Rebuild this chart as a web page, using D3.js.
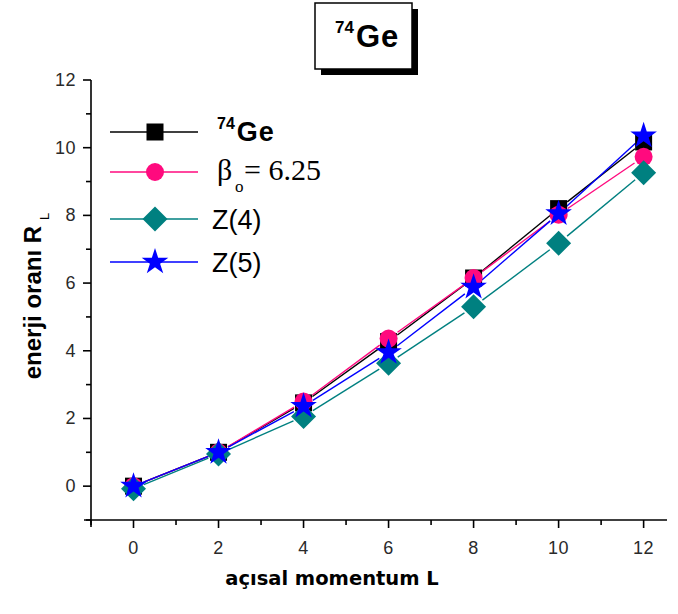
<!DOCTYPE html>
<html><head><meta charset="utf-8">
<script src="https://cdn.jsdelivr.net/npm/d3@7"></script>
<style>body{margin:0;background:#fff}svg{display:block}</style>
</head><body>
<svg id="c" width="678" height="614"></svg>
<script>
const angularL = [0, 2, 4, 6, 8, 10, 12];
const ge74 = [0, 1, 2.46, 4.27, 6.15, 8.2, 10.17];
const beta625 = [0, 1, 2.5, 4.36, 6.15, 8.02, 9.73];
const z4 = [-0.08, 0.95, 2.06, 3.63, 5.3, 7.18, 9.26];
const z5 = [0, 1, 2.36, 3.95, 5.88, 8.05, 10.35];
const xTicks = [0, 2, 4, 6, 8, 10, 12];
const yTicks = [0, 2, 4, 6, 8, 10, 12];

const series = [
  {name: "ge", vals: ge74, color: "#000000", shape: "square"},
  {name: "beta", vals: beta625, color: "#ff0a7e", shape: "circle"},
  {name: "z4", vals: z4, color: "#008080", shape: "diamond"},
  {name: "z5", vals: z5, color: "#0000ff", shape: "star"}
];

const svg = d3.select("#c");
const x = d3.scaleLinear().domain([-1, 12.55]).range([91, 667]);
const y = d3.scaleLinear().domain([-1, 12]).range([520, 80]);

// axes
const xAxis = svg.append("g").attr("transform", "translate(0,520)");
xAxis.append("line").attr("x1", 84).attr("x2", 667).attr("y1", 0).attr("y2", 0).attr("stroke", "#000").attr("stroke-width", 1.6);
d3.range(-1, 13, 1).forEach(v => {
  const major = v % 2 === 0;
  xAxis.append("line").attr("x1", x(v)).attr("x2", x(v)).attr("y1", 0).attr("y2", major ? 8 : 5)
    .attr("stroke", "#000").attr("stroke-width", 1.6);
});
xAxis.selectAll("text.t").data(xTicks).enter().append("text")
  .attr("x", d => x(d)).attr("y", 34).attr("text-anchor", "middle")
  .attr("font-family", "Liberation Sans, Arial, sans-serif").attr("font-size", 18).attr("letter-spacing", 0.5).attr("fill", "#2a2a2a")
  .text(d => d);

const yAxis = svg.append("g").attr("transform", "translate(91,0)");
yAxis.append("line").attr("x1", 0).attr("x2", 0).attr("y1", y(12)).attr("y2", 527).attr("stroke", "#000").attr("stroke-width", 1.6);
d3.range(-1, 13, 1).forEach(v => {
  const major = v % 2 === 0;
  yAxis.append("line").attr("x1", 0).attr("x2", major ? -8 : -5).attr("y1", y(v)).attr("y2", y(v))
    .attr("stroke", "#000").attr("stroke-width", 1.6);
});
yAxis.selectAll("text.t").data(yTicks).enter().append("text")
  .attr("x", -15).attr("y", d => y(d) + 6).attr("text-anchor", "end")
  .attr("font-family", "Liberation Sans, Arial, sans-serif").attr("font-size", 18).attr("letter-spacing", 0.5).attr("fill", "#2a2a2a")
  .text(d => d);

// axis titles
svg.append("text").attr("x", 332).attr("y", 585).attr("text-anchor", "middle")
  .attr("font-family", "DejaVu Sans, Verdana, sans-serif").attr("font-weight", "bold").attr("font-size", 19.5)
  .text("açısal momentum L");
const yl = svg.append("text").attr("transform", "translate(41,296) rotate(-90)").attr("text-anchor", "middle")
  .attr("font-family", "Liberation Sans, Arial, sans-serif").attr("font-weight", "bold").attr("font-size", 24);
yl.append("tspan").text("enerji oranı R");
yl.append("tspan").attr("font-size", 13).attr("dx", 6).attr("dy", 8).attr("font-weight", "normal").text("L");

// marker generator
function marker(g, shape, color, cx, cy) {
  if (shape === "square") g.append("rect").attr("x", cx - 8.5).attr("y", cy - 8.5).attr("width", 17).attr("height", 17).attr("fill", color);
  else if (shape === "circle") g.append("circle").attr("cx", cx).attr("cy", cy).attr("r", 9).attr("fill", color);
  else if (shape === "diamond") g.append("path").attr("d", `M${cx},${cy-12.5}L${cx+12.5},${cy}L${cx},${cy+12.5}L${cx-12.5},${cy}Z`).attr("fill", color);
  else if (shape === "star") g.append("path").attr("transform", `translate(${cx},${cy})`).attr("d", d3.symbol(d3.symbolStar, 220)()).attr("fill", color);
}

// series
const gap = 11;
series.forEach(s => {
  const g = svg.append("g");
  for (let i = 0; i < angularL.length - 1; i++) {
    const x1 = x(angularL[i]), y1 = y(s.vals[i]), x2 = x(angularL[i + 1]), y2 = y(s.vals[i + 1]);
    const len = Math.hypot(x2 - x1, y2 - y1), ux = (x2 - x1) / len, uy = (y2 - y1) / len;
    g.append("line").attr("x1", x1 + ux * gap).attr("y1", y1 + uy * gap).attr("x2", x2 - ux * gap).attr("y2", y2 - uy * gap)
      .attr("stroke", s.color).attr("stroke-width", 1.4);
  }
});
series.forEach(s => {
  const g = svg.append("g");
  angularL.forEach((L, i) => marker(g, s.shape, s.color, x(L), y(s.vals[i])));
});

// legend
const legY = [132, 172, 219, 262];
series.forEach((s, i) => {
  const g = svg.append("g");
  g.append("line").attr("x1", 110).attr("x2", 198).attr("y1", legY[i]).attr("y2", legY[i]).attr("stroke", s.color).attr("stroke-width", 1.4);
  marker(g, s.shape, s.color, 155, legY[i]);
});
const t0 = svg.append("text").attr("x", 217).attr("y", legY[0] + 9).attr("font-family", "Liberation Sans, Arial, sans-serif").attr("font-weight", "bold").attr("font-size", 27);
t0.append("tspan").attr("font-size", 16).attr("dy", -12).text("74");
t0.append("tspan").attr("dy", 12).attr("dx", 2).attr("letter-spacing", 1).text("Ge");
const t1 = svg.append("text").attr("y", legY[1] + 8).attr("font-family", "Liberation Serif, Times New Roman, serif").attr("font-size", 30);
t1.append("tspan").attr("x", 217).text("β");
t1.append("tspan").attr("x", 235).attr("font-size", 17).attr("dy", 12).text("o");
t1.append("tspan").attr("x", 244).attr("dy", -12).text("= 6.25");
svg.append("text").attr("x", 212).attr("y", legY[2] + 10).attr("font-family", "Liberation Sans, Arial, sans-serif").attr("font-size", 27).text("Z(4)");
svg.append("text").attr("x", 212).attr("y", legY[3] + 10).attr("font-family", "Liberation Sans, Arial, sans-serif").attr("font-size", 27).text("Z(5)");

// title box
svg.append("rect").attr("x", 321).attr("y", 9).attr("width", 97).attr("height", 66).attr("fill", "#000");
svg.append("rect").attr("x", 315).attr("y", 3).attr("width", 97).attr("height", 66).attr("fill", "#fff").attr("stroke", "#000").attr("stroke-width", 1.5);
const tt = svg.append("text").attr("x", 335).attr("y", 47).attr("font-family", "Liberation Sans, Arial, sans-serif").attr("font-weight", "bold").attr("font-size", 31);
tt.append("tspan").attr("font-size", 17).attr("dy", -14).text("74");
tt.append("tspan").attr("dy", 14).attr("dx", 2).attr("letter-spacing", 1).text("Ge");
</script>
</body></html>
